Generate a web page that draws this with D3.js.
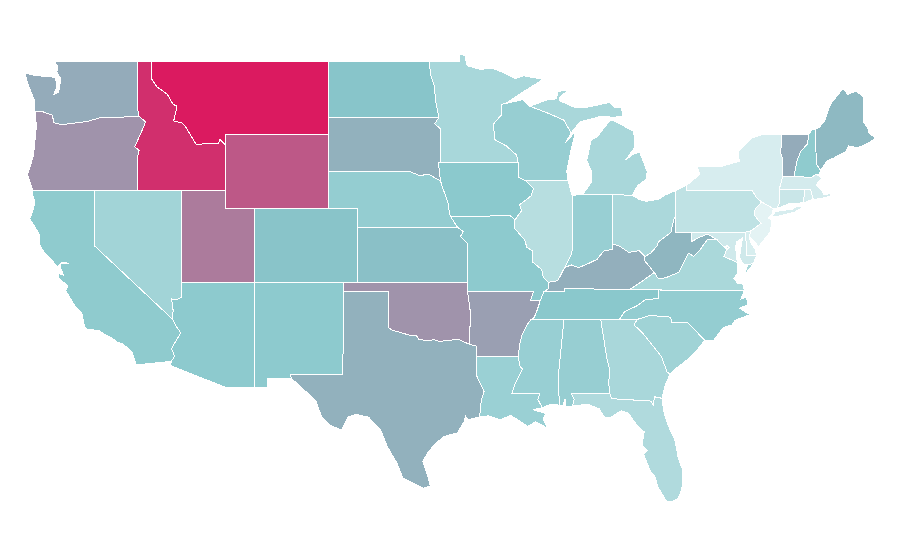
<!DOCTYPE html>
<html><head><meta charset="utf-8">
<style>html,body{margin:0;background:#fff}svg{display:block}</style>
<script src="https://cdn.jsdelivr.net/npm/d3@7"></script></head>
<body><svg id="map" width="900" height="560"></svg>
<script>
const stateIds    = ["MT","ID","WY","UT","OR","OK","AR","TX","WA","SD","ME","VT","KY","WV","NH","ND","CO","KS","NM","AZ","CA","NV","NE","IA","MO","MN","WI","MI","IL","IN","OH","PA","NY","NJ","CT","MA","RI","MD","DE","DC","VA","NC","SC","GA","FL","AL","MS","LA","TN"];
const stateValues = [100,94,82,72,65,65,61.5,56.5,58,56.5,54,58,57,55,46,50.5,51,52,47,47,46,36,43.5,48,47,33,42,32.5,25.5,41,31.5,21,8.7,2,16,10.5,10,13,8,15,32,43.5,37,32.5,29,42,41,40,48.5];
const colorStops  = [0,50,100];
const colorRange  = ["#e8f5f6","#87c7cb","#db1a60"];

// Shared borders, longitude / latitude
const columbia = [[-124.05,46.27],[-123.5,46.25],[-123.2,46.15],[-122.9,46.1],[-122.8,45.85],[-122.75,45.65],[-122.25,45.55],[-121.2,45.65],[-120.5,45.72],[-119.6,45.92],[-119,45.93],[-116.92,46]];
const snake = [[-116.92,46],[-116.48,45.7],[-116.85,45],[-117.23,44.35],[-116.92,44.15],[-117.03,43.8],[-117.03,42]];
const bitterroot = [[-116.05,48],[-115.7,47.6],[-115,47.2],[-114.6,46.65],[-114.33,46.55],[-114.56,45.75],[-114,45.65],[-113.8,45.5],[-113.45,45.05],[-113,44.45],[-112.3,44.55],[-111.5,44.55],[-111.4,44.75],[-111.05,44.48]];
const coloradoCA = [[-114.72,32.72],[-114.5,33],[-114.7,33.4],[-114.5,33.7],[-114.08,34.27],[-114.45,34.7],[-114.63,35]];
const coloradoNV = [[-114.63,35],[-114.6,35.5],[-114.7,36.1],[-114.35,36.05],[-114.04,36.2],[-114.04,37]];
const redRiver = [[-100,34.56],[-99.7,34.4],[-99.2,34.3],[-98.6,34.15],[-98.1,34.13],[-97.9,33.9],[-97.2,33.85],[-96.9,33.9],[-96.5,33.8],[-95.9,33.87],[-95.2,33.9],[-94.48,33.64]];
const txAr = [[-94.48,33.64],[-94.04,33.55],[-94.04,33]];
const txLa = [[-94.04,33],[-94.04,32],[-93.8,31.6],[-93.5,31.1],[-93.7,30.6],[-93.72,30.1],[-93.85,29.7]];
const okAr = [[-94.62,36.5],[-94.43,35.4],[-94.48,33.64]];
const redNorth = [[-104.05,45.94],[-96.56,45.94]];
const ndMn = [[-97.23,49],[-97.1,48.2],[-96.85,47.6],[-96.8,46.9],[-96.56,45.94]];
const sdMn = [[-96.56,45.94],[-96.85,45.6],[-96.42,45.3],[-96.42,43.5]];
const sdIa = [[-96.42,43.5],[-96.6,43.5],[-96.45,42.5]];
const sdNe = [[-104.05,43],[-98.5,43],[-97.9,42.8],[-97.2,42.85],[-96.7,42.6],[-96.45,42.5]];
const neIa = [[-96.45,42.5],[-96.25,42],[-96.1,41.7],[-95.9,41.2],[-95.85,40.7],[-95.77,40.58]];
const neMo = [[-95.77,40.58],[-95.31,40]];
const ksMo = [[-95.31,40],[-94.9,39.75],[-95.1,39.5],[-94.61,39.1],[-94.61,37]];
const iaMo = [[-95.77,40.58],[-91.73,40.61],[-91.4,40.4]];
const iaIl = [[-91.4,40.4],[-90.95,40.9],[-91.1,41.2],[-90.3,41.7],[-90.15,42.1],[-90.65,42.5]];
const iaWi = [[-90.65,42.5],[-91.15,42.7],[-91.2,43.5]];
const wiMn = [[-91.2,43.5],[-91.3,43.9],[-92,44.4],[-92.8,44.75],[-92.85,45.6],[-92.3,46.1],[-92.3,46.65],[-92.05,46.7]];
const moIl = [[-91.4,40.4],[-91.45,39.95],[-90.75,39.3],[-90.6,38.9],[-90.2,38.7],[-90.2,38.1],[-89.6,37.7],[-89.5,37.3],[-89.15,37]];
const moKy = [[-89.15,37],[-89.15,36.65],[-89.45,36.5]];
const tnMo = [[-89.45,36.5],[-89.7,36]];
const arMoHeel = [[-89.7,36],[-90.37,36],[-90.15,36.5],[-94.62,36.5]];
const miss = [[-89.7,36],[-89.9,35.5],[-90.1,35.1],[-90.3,35]];
const missAr = [[-90.3,35],[-90.6,34.7],[-90.95,34.1],[-91.1,33.6],[-91.17,33]];
const missLa = [[-91.17,33],[-91.1,32.5],[-90.9,32.3],[-91.1,32],[-91.4,31.5],[-91.6,31]];
const msLa = [[-91.6,31],[-89.73,31],[-89.85,30.65],[-89.55,30.2]];
const msAl = [[-88.2,35],[-88.1,34.9],[-88.47,31.9],[-88.4,30.35]];
const alGa = [[-85.6,35],[-85.18,32.87],[-85,32.3],[-85.05,31.55],[-85,31]];
const alFl = [[-85,31],[-87.6,31],[-87.4,30.65],[-87.5,30.3]];
const gaFl = [[-85,31],[-84.86,30.7],[-82.2,30.57],[-82.05,30.35],[-81.95,30.8],[-81.45,30.72]];
const gaSc = [[-83.11,35],[-83.35,34.7],[-83,34.45],[-82.75,34.25],[-82,33.5],[-81.5,33],[-81.1,32.15],[-80.9,32.03]];
const tnNc = [[-81.68,36.59],[-81.7,36.15],[-82.05,36.1],[-82.6,36.05],[-83.1,35.75],[-84,35.4],[-84.32,35]];
const kyOhio = [[-88.05,37.8],[-87.6,37.95],[-87.1,37.8],[-86.5,38],[-85.85,38.25],[-85.4,38.7],[-84.8,38.8],[-84.82,39.1]];
const kyIl = [[-89.15,37],[-88.5,37.1],[-88.05,37.8]];
const ilIn = [[-88.05,37.8],[-87.55,38.6],[-87.5,39.35],[-87.53,41.7]];
const kyOh = [[-84.82,39.1],[-84.3,38.95],[-83.7,38.63],[-83,38.72],[-82.6,38.4]];
const kyWv = [[-82.6,38.4],[-82.6,38.15],[-81.97,37.54]];
const kyVa = [[-81.97,37.54],[-82.9,37],[-83.68,36.6]];
const wvOh = [[-82.6,38.4],[-82.2,38.6],[-81.75,39],[-81.7,39.2],[-80.85,39.7],[-80.65,40.4],[-80.52,40.64]];
const wvVa = [[-81.97,37.54],[-81.7,37.2],[-81.2,37.25],[-80.3,37.55],[-79.65,38.58],[-79.3,38.42],[-78.87,38.77],[-78.35,39.35],[-77.72,39.32]];
const wvMd = [[-77.72,39.32],[-78.35,39.62],[-78.9,39.45],[-79.48,39.2],[-79.48,39.72]];
const mdVa = [[-77.72,39.32],[-77.5,39.12],[-77.05,38.8],[-77.25,38.4],[-76.95,38.3],[-76.3,38.05]];
const paNy = [[-79.76,42.27],[-79.76,42],[-75.35,42],[-75.05,41.6],[-74.7,41.36]];
const paNj = [[-74.7,41.36],[-75.13,40.98],[-75.2,40.65],[-74.75,40.2],[-75.4,39.8]];
const njNy = [[-74.7,41.36],[-73.9,41]];
const njDe = [[-75.4,39.8],[-75.55,39.5]];
const nyCt = [[-73.65,41],[-73.5,41.3],[-73.5,42.05]];
const nyMa = [[-73.5,42.05],[-73.27,42.75]];
const nyVt = [[-73.27,42.75],[-73.25,43.6],[-73.4,44],[-73.35,45]];
const vtNh = [[-71.5,45.01],[-71.6,44.5],[-72.05,44.1],[-72.3,43.6],[-72.45,43],[-72.46,42.73]];
const maNh = [[-72.46,42.73],[-71.3,42.7],[-71,42.87]];
const nhMe = [[-70.7,43.07],[-70.98,43.4],[-71.08,45.3]];
const ctMa = [[-73.5,42.05],[-71.8,42.02]];
const ctRi = [[-71.8,42.02],[-71.85,41.32]];
const riMa = [[-71.8,42.02],[-71.38,42.02],[-71.2,41.5]];
const okTxTop = [[-103.04,36.5],[-100,36.5],[-100,34.56]];
const nmTx = [[-106.53,31.78],[-106.62,32],[-103.06,32],[-103.04,36.5]];
const idNorth = [[-117.04,49],[-117.04,46.42],[-116.92,46]];
const miIn = [[-86.82,41.76],[-84.8,41.76]];
const miOh = [[-84.8,41.76],[-83.45,41.72]];
const wiMiUp = [[-90.4,46.55],[-89.1,46.15],[-88.1,45.8],[-87.6,45.1]];
const ilWi = [[-90.65,42.5],[-87.8,42.5]];
const vaNc = [[-81.68,36.59],[-75.87,36.55]];
const tnKy = [[-83.68,36.6],[-88.07,36.68],[-88.07,36.5],[-89.45,36.5]];
const vaTn = [[-81.68,36.59],[-83.68,36.6]];
const ncSc = [[-83.11,35],[-82.3,35.2],[-81.05,35.15],[-80.85,35.1],[-80.8,34.82],[-79.67,34.8],[-78.55,33.86]];
const deMd = [[-75.79,39.72],[-75.7,38.46],[-75.05,38.45]];
const paDe = [[-75.4,39.8],[-75.79,39.72]];
const paMd = [[-75.79,39.72],[-79.48,39.72]];
const paWv = [[-79.48,39.72],[-80.52,39.72],[-80.52,40.64]];
const paOh = [[-80.52,40.64],[-80.52,41.98]];

const rev = a => a.slice().reverse();
const chain = (...parts) => parts.flat();

const stateRings = {
 WA:[chain([[-122.76,49],[-122.5,48.75],[-122.55,48.4],[-122.3,48.05],[-122.35,47.6],[-122.45,47.3],[-122.75,47.2],[-122.55,47.6],[-122.65,48.1],[-123.2,48.17],[-124,48.2],[-124.73,48.36],[-124.6,47.9],[-124.3,47.3],[-124.1,46.9]],columbia,rev(idNorth))],
 OR:[chain(columbia,snake,[[-120,42],[-124.2,42],[-124.55,42.85],[-124.4,43.2],[-124.15,43.9],[-124.05,44.7],[-123.95,45.5]])],
 CA:[chain([[-124.2,42],[-120,42],[-120,39],[-114.63,35]],rev(coloradoCA),[[-117.12,32.53],[-117.25,32.85],[-117.4,33.2],[-118,33.65],[-118.4,33.75],[-118.8,34],[-119.2,34.15],[-119.7,34.4],[-120.45,34.45],[-120.65,34.6],[-120.85,35.35],[-121.3,35.7],[-121.95,36.55],[-121.8,36.8],[-122,36.95],[-122.4,37.2],[-122.45,37.5],[-122.1,37.4],[-122.3,37.8],[-122.3,38],[-121.7,38.03],[-122.2,38.1],[-122.5,37.85],[-122.95,38.25],[-123.4,38.6],[-123.7,39],[-123.75,39.6],[-124.05,40],[-124.4,40.45],[-124.15,41],[-124.05,41.4],[-124.2,41.7]])],
 NV:[chain([[-120,42],[-114.04,42],[-114.04,37]],rev(coloradoNV),[[-120,39]])],
 ID:[chain(idNorth.slice(0,1),[[-116.05,49]],bitterroot,[[-111.05,42],[-117.03,42]],rev(snake),rev(idNorth).slice(1))],
 MT:[chain([[-116.05,49],[-104.05,49],[-104.05,45],[-111.05,45]],rev(bitterroot))],
 WY:[[[-111.05,45],[-104.05,45],[-104.05,41],[-111.05,41]]],
 UT:[[[-114.04,42],[-111.05,42],[-111.05,41],[-109.05,41],[-109.05,37],[-114.04,37]]],
 CO:[[[-109.05,41],[-102.05,41],[-102.05,37],[-109.05,37]]],
 AZ:[chain([[-114.04,37],[-109.05,37],[-109.05,31.33],[-111.07,31.33],[-114.8,32.5]],coloradoCA,coloradoNV.slice(1))],
 NM:[chain([[-109.05,37],[-103,37]],rev(nmTx),[[-108.2,31.78],[-108.2,31.33],[-109.05,31.33]])],
 ND:[chain([[-104.05,49]],ndMn,[[-104.05,45.94]])],
 SD:[chain(redNorth,sdMn,sdIa,rev(sdNe))],
 NE:[chain(sdNe,neIa,neMo,[[-102.05,40],[-102.05,41],[-104.05,41]])],
 KS:[chain([[-102.05,40]],ksMo,[[-102.05,37]])],
 OK:[chain([[-103,37],[-94.61,37]],okAr,rev(redRiver),rev(okTxTop))],
 TX:[chain(okTxTop,redRiver,txAr,txLa,[[-94.6,29.55],[-94.75,29.75],[-94.85,29.45],[-95.3,28.85],[-96.2,28.65],[-96.75,28.3],[-97.3,27.8],[-97.65,27.3],[-97.3,26.45],[-97.15,25.96],[-97.6,25.85],[-98.15,26.05],[-99,26.4],[-99.4,27.2],[-100.05,28.1],[-100.5,29],[-101.33,29.7],[-102.2,29.85],[-102.7,29.7],[-103.15,28.98],[-104,29.3],[-104.5,29.7],[-104.9,30.6],[-106,31.4]],nmTx)],
 MN:[chain([[-97.23,49],[-95.15,49],[-95.15,49.38],[-94.8,49.3],[-94.65,48.75],[-93.8,48.55],[-92.9,48.6],[-92,48.3],[-91.4,48.05],[-90.8,48.2],[-89.5,48],[-90.8,47.35]],rev(wiMn),rev(sdMn),rev(ndMn))],
 IA:[chain([[-96.42,43.5],[-91.2,43.5]],rev(iaWi),rev(iaIl),rev(iaMo),rev(neIa),rev(sdIa).slice(0,-1))],
 MO:[chain(iaMo,moIl,moKy,tnMo,arMoHeel,[[-94.61,37]],rev(ksMo),rev(neMo))],
 AR:[chain(okAr,txAr,rev(missAr),rev(miss),arMoHeel.slice(0,-1))],
 LA:[chain([[-94.04,33]],missLa,msLa,[[-89.6,30.2],[-90.2,30.1],[-89.75,30],[-89.3,29.9],[-89.5,29.6],[-89.2,29.1],[-90,29.45],[-90.55,29.2],[-91.7,29.8],[-92.4,29.55],[-93.2,29.77]],rev(txLa))],
 WI:[chain(rev(wiMn),[[-91.15,42.7],[-90.65,42.5],[-87.8,42.5],[-87.9,43],[-87.6,44.2],[-87.3,45.2],[-88,44.55],[-87.6,45.1]],rev(wiMiUp),[[-90.9,46.9]])],
 IL:[chain(ilWi,[[-87.6,41.85]],rev(ilIn),rev(kyIl),rev(moIl),iaIl)],
 IN:[chain([[-87.53,41.7],[-87.2,41.75]],miIn,rev(kyOhio),ilIn.slice(1,-1))],
 OH:[chain(miOh,[[-83,41.5],[-82.5,41.4],[-81.7,41.5],[-81.2,41.75]],rev(paOh),rev(wvOh),rev(kyOh),[[-84.8,41.76]])],
 MI:[chain(miIn,miOh,[[-83.1,42.25],[-82.5,42.6],[-82.45,43],[-82.95,44.05],[-83.4,43.95],[-83.9,43.65],[-83.3,44.3],[-83.3,44.85],[-83.4,45.2],[-84.75,45.78],[-85,45.75],[-85.55,45.2],[-85.75,44.95],[-86.25,44.7],[-86.55,43.6],[-86.2,43],[-86.25,42.4]]),
     chain(wiMiUp,[[-87,45.7],[-86.5,45.8],[-85.6,46],[-84.7,45.95],[-84.1,46],[-84.2,46.5],[-84.7,46.5],[-85,46.75],[-86.5,46.5],[-87.4,46.5],[-88.4,46.85],[-88.35,47.05],[-87.78,47.43],[-88.5,47.35],[-88.6,46.95],[-89.2,46.9]])],
 KY:[chain(tnKy,[[-89.15,36.65]],kyIl,kyOhio,kyOh,kyWv,kyVa)],
 TN:[chain(rev(tnMo),rev(tnKy),rev(vaTn),tnNc,[[-85.6,35],[-88.2,35]],rev(miss))],
 MS:[chain(rev(miss).slice(0,1),[[-88.2,35]],msAl,[[-89,30.4]],rev(msLa),rev(missLa),rev(missAr).slice(0,-1))],
 AL:[chain([[-88.2,35],[-85.6,35]],alGa,alFl,[[-88,30.25],[-88,30.7],[-88.15,30.35]],rev(msAl))],
 GA:[chain([[-85.6,35],[-84.32,35]],gaSc,[[-81.2,31.5]],rev(gaFl),rev(alGa))],
 FL:[chain(rev(alFl),gaFl,[[-81.3,29.9],[-81,29.2],[-80.55,28.4],[-80.35,27.5],[-80.03,26.8],[-80.1,25.8],[-80.35,25.3],[-80.7,25.15],[-81.15,25.15],[-81.75,25.95],[-81.9,26.45],[-82.25,26.8],[-82.7,27.7],[-82.45,27.9],[-82.8,28.2],[-82.65,28.9],[-83.1,29.2],[-83.7,29.9],[-84.2,30.05],[-85,29.65],[-85.35,29.7],[-85.7,30.15],[-86.5,30.4]])],
 SC:[chain(ncSc,[[-79.2,33.2],[-79.9,32.7],[-80.65,32.25]],rev(gaSc))],
 NC:[chain([[-84.32,35]],rev(tnNc),vaNc,[[-76.1,36.1],[-75.75,36.2],[-75.6,35.8],[-76.2,35.6],[-75.5,35.25],[-76.5,34.95],[-76.7,34.7],[-77.3,34.55],[-77.95,33.85]],rev(ncSc))],
 VA:[chain(rev(vaTn),vaNc,[[-75.95,36.9],[-76.3,36.95],[-76.6,37.2],[-76.3,37.5]],rev(mdVa),rev(wvVa),kyVa),
     [[-75.95,37.15],[-75.65,37.95],[-75.25,38.03],[-75.75,37.5]]],
 WV:[chain(paWv,rev(wvOh).slice(1),[[-82.6,38.15]],wvVa,wvMd)],
 MD:[chain(rev(paMd),deMd,[[-75.25,38.03],[-75.65,37.95],[-75.9,37.95],[-76.2,38.35],[-76.1,38.9],[-76,39.4],[-76.4,39.2],[-76.45,38.9],[-76.4,38.3]],rev(mdVa),wvMd.slice(1))],
 DE:[chain(paDe,deMd,[[-75.1,38.75],[-75.4,39.1]],rev(njDe))],
 DC:[[[-77.12,38.93],[-77.04,39],[-76.91,38.89],[-77.04,38.79]]],
 PA:[chain(paOh.slice(1),paNy,paNj,paDe,paMd,paWv)],
 NJ:[chain(njNy,[[-74,40.7],[-74.25,40.5],[-74,40.4],[-74.1,39.75],[-74.9,38.95]],rev(njDe),rev(paNj))],
 NY:[chain([[-79.76,42.27],[-78.9,42.85],[-79.05,43.27],[-77.5,43.27],[-76.5,43.5],[-76.2,43.55],[-76.3,44.1],[-75.3,44.85],[-74.7,45]],rev(nyVt),rev(nyMa),rev(nyCt),rev(njNy),rev(paNy)),
     [[-74,40.6],[-73.75,40.85],[-72.6,40.97],[-72.3,41.15],[-71.9,41.05],[-72.5,40.8],[-73.6,40.58]]],
 CT:[chain(ctMa,ctRi,[[-72.9,41.25]],nyCt)],
 RI:[chain(riMa,rev(ctRi))],
 MA:[chain(nyMa.slice(1),maNh,[[-70.6,42.65],[-71,42.3],[-70.6,41.95],[-70.5,41.78],[-70,41.8],[-70.2,42.07],[-69.95,41.7],[-70.65,41.55]],rev(riMa),rev(ctMa))],
 VT:[chain(nyVt,vtNh)],
 NH:[chain(vtNh,maNh,[[-70.82,42.87]],nhMe,[[-71.3,45.3]])],
 ME:[chain(nhMe,[[-70.8,45.4],[-70.4,45.8],[-70.25,46.2],[-70,46.7],[-69.23,47.46],[-69.05,47.42],[-68.9,47.18],[-68.3,47.36],[-67.8,47.07],[-67.8,45.7],[-67.45,45.3],[-67.45,45.1],[-66.95,44.82],[-67.6,44.5],[-68.2,44.3],[-68.8,44.4],[-69,44.1],[-69.8,43.75],[-70.25,43.6]])]
};

const color = d3.scaleLinear().domain(colorStops).range(colorRange);
const x = d3.scaleLinear().domain([-124.73,-111.05,-66.95]).range([25,225,876]);
const y = d3.scaleLinear().domain([49,25.1]).range([61,502]);
const projection = d3.geoTransform({point(lon,lat){this.stream.point(x(lon),y(lat));}});
const path = d3.geoPath(projection);

const features = stateIds.map((id,i)=>({type:"Feature",id,value:stateValues[i],
  geometry:{type:"MultiPolygon",coordinates:stateRings[id].map(r=>[[...r,r[0]]])}}));

d3.select("#map").selectAll("path").data(features).join("path")
  .attr("d",path)
  .attr("fill",d=>color(d.value))
  .attr("stroke","#fff")
  .attr("stroke-width",1)
  .attr("shape-rendering","crispEdges");
</script></body></html>
